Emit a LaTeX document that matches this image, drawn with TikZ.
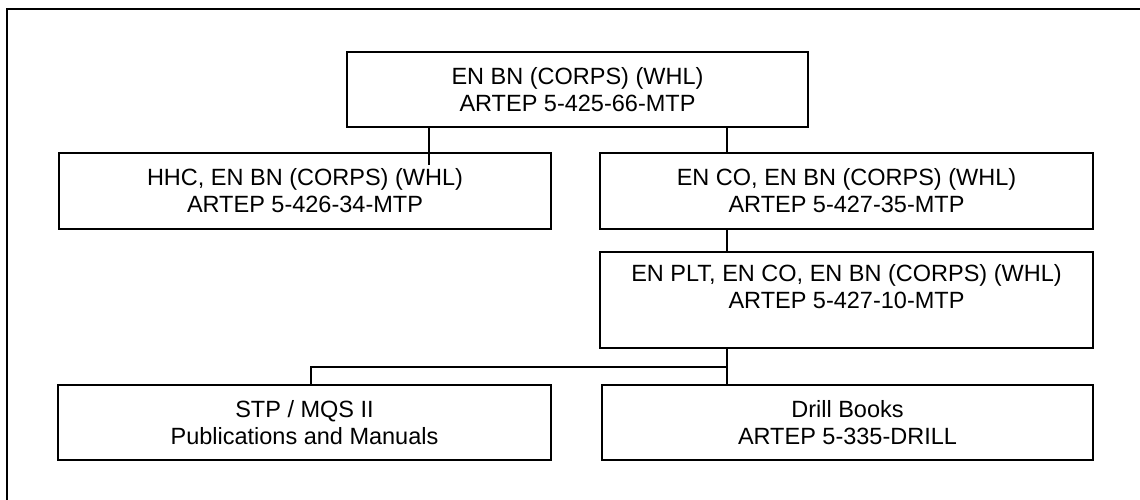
\documentclass[tikz,border=0pt]{standalone}
\usepackage{fontspec}
\setmainfont{Liberation Sans}
\begin{document}
\begin{tikzpicture}[x=1pt,y=-1pt,
  orgbox/.style={draw=black, line width=2pt, align=center, inner sep=0pt,
    font=\fontsize{23.5}{27}\selectfont},
  link/.style={draw=black, line width=1.3pt}]
\useasboundingbox (0,0) rectangle (1140,500);
\draw[line width=2pt] (7,9) rectangle (1160,520);
\node[orgbox, minimum width=461pt, minimum height=75pt] (top) at (577.5,89.5)
  {EN BN (CORPS) (WHL)\\ARTEP 5-425-66-MTP};
\node[orgbox, minimum width=492pt, minimum height=76pt] (hhc) at (305,191)
  {HHC, EN BN (CORPS) (WHL)\\ARTEP 5-426-34-MTP};
\node[orgbox, minimum width=493pt, minimum height=76pt] (enco) at (846.5,191)
  {EN CO, EN BN (CORPS) (WHL)\\ARTEP 5-427-35-MTP};
\node[orgbox, minimum width=493pt, minimum height=96pt] (enplt) at (846.5,300)
  {EN PLT, EN CO, EN BN (CORPS) (WHL)\\ARTEP 5-427-10-MTP\\\mbox{}};
\node[orgbox, minimum width=493pt, minimum height=75pt] (stp) at (304.5,422.5)
  {STP / MQS II\\Publications and Manuals};
\node[orgbox, minimum width=491pt, minimum height=75pt] (drill) at (847.5,422.5)
  {Drill Books\\ARTEP 5-335-DRILL};
\coordinate (hend) at (429,165);
\coordinate (spine) at (727,367);
\coordinate (stpx) at (311,367);
\draw[link] (top.south -| hend) -- (hend);
\draw[link] (top.south -| spine) -- (enco.north -| spine);
\draw[link] (enco.south -| spine) -- (enplt.north -| spine);
\draw[link] (enplt.south -| spine) -- (drill.north -| spine);
\draw[link] (spine) -- (stpx) -- (stp.north -| stpx);
\end{tikzpicture}
\end{document}
